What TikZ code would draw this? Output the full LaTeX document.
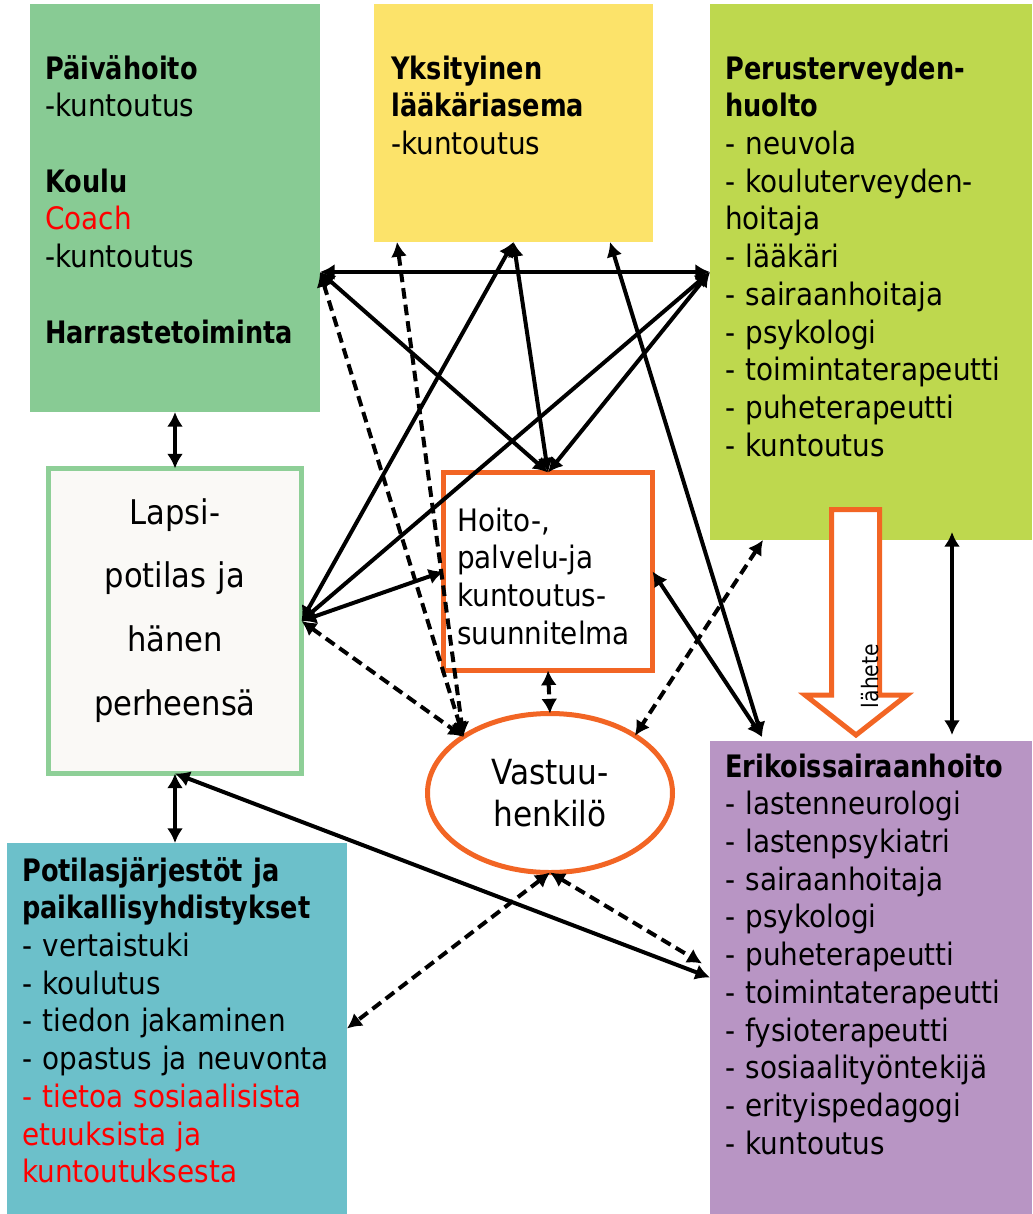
\documentclass[tikz,border=0pt]{standalone}
\usepackage{fontspec}
\setmainfont{DejaVu Sans Condensed}[BoldFeatures={FakeStretch=0.92}]
\usetikzlibrary{calc,arrows.meta,shapes.geometric}

\definecolor{paivacol}{HTML}{88CB94}
\definecolor{ykscol}{HTML}{FCE36A}
\definecolor{peruscol}{HTML}{BED84E}
\definecolor{erikocol}{HTML}{B895C4}
\definecolor{potilcol}{HTML}{6CC0CA}
\definecolor{oranssi}{HTML}{F26524}
\definecolor{lapsireuna}{HTML}{8ECF97}
\definecolor{lapsitausta}{HTML}{FAF9F6}
\definecolor{punainen}{HTML}{FF0000}

\tikzset{
  sz/.style 2 args={minimum width=#1*0.75pt,minimum height=#2*0.75pt},
  laatikko/.style={anchor=north west,inner sep=0pt,outer sep=0pt},
  teksti/.style={anchor=base west,inner sep=0pt,text width=300pt,align=left,
    font=\fontsize{23.2}{28.3}\selectfont},
  nuoli/.style={line width=3pt,{Latex[length=11pt,width=12pt]}-{Latex[length=11pt,width=12pt]}},
  katko/.style={nuoli,dash pattern=on 8pt off 4.5pt},
}

\begin{document}
\begin{tikzpicture}[x=0.75pt,y=-0.75pt]
\useasboundingbox (0,0) rectangle (1032,1214);

% laatikot
\node[laatikko,sz={290}{408},fill=paivacol] (paiva) at (30,4) {};
\node[laatikko,sz={279}{238},fill=ykscol] (yks) at (374,4) {};
\node[laatikko,sz={322}{536},fill=peruscol] (perus) at (710,4) {};
\node[laatikko,sz={322}{473},fill=erikocol] (eriko) at (710,741) {};
\node[laatikko,sz={340}{371},fill=potilcol] (potil) at (7,843) {};
\node[laatikko,sz={253}{305},draw=lapsireuna,line width=3.75pt,fill=lapsitausta] (lapsi) at (48.5,468.5) {};
\node[laatikko,sz={209}{198},draw=oranssi,line width=3.75pt,fill=white] (hoito) at (443.5,472.5) {};
\node[ellipse,sz={245}{159},draw=oranssi,line width=3.75pt,fill=white,inner sep=0pt,outer sep=0pt,
  align=center,font=\fontsize{26}{31.5}\selectfont] (vastuu) at (550,793) {Vastuu-\\henkilö};

% tekstit
\node[teksti] (paivateksti) at (45,79) {\textbf{Päivähoito}\\-kuntoutus\\[28.3pt]\textbf{Koulu}\\{\color{punainen}Coach}\\-kuntoutus\\[28.3pt]\textbf{Harrastetoiminta}};
\node[teksti] (yksteksti) at (391,79) {\textbf{Yksityinen}\\\textbf{lääkäriasema}\\-kuntoutus};
\node[teksti] (perusteksti) at (725,79) {\textbf{Perusterveyden-}\\\textbf{huolto}\\- neuvola\\- kouluterveyden-\\hoitaja\\- lääkäri\\- sairaanhoitaja\\- psykologi\\- toimintaterapeutti\\- puheterapeutti\\- kuntoutus};
\node[teksti] (erikoteksti) at (725,777) {\textbf{Erikoissairaanhoito}\\- lastenneurologi\\- lastenpsykiatri\\- sairaanhoitaja\\- psykologi\\- puheterapeutti\\- toimintaterapeutti\\- fysioterapeutti\\- sosiaalityöntekijä\\- erityispedagogi\\- kuntoutus};
\node[teksti] (potilteksti) at (22,881) {\textbf{Potilasjärjestöt ja}\\\textbf{paikallisyhdistykset}\\- vertaistuki\\- koulutus\\- tiedon jakaminen\\- opastus ja neuvonta\\{\color{punainen}- tietoa sosiaalisista\\etuuksista ja\\kuntoutuksesta}};
\node[anchor=base,inner sep=0pt,text width=250pt,align=center,font=\fontsize{25.5}{47.8}\selectfont] (lapsiteksti) at (175,524) {Lapsi-\\potilas ja\\hänen\\perheensä};
\node[teksti] (hoitoteksti) at (457,531) {Hoito-,\\palvelu-ja\\kuntoutus-\\suunnitelma};

% lähete
\draw[oranssi,line width=3.75pt,fill=white] (831.5,509.5) -- (879.5,509.5) -- (879.5,695) -- (907,695)
  -- (856,735) -- (805,695) -- (831.5,695) -- cycle;
\node[rotate=90,inner sep=0pt,font=\fontsize{17}{17}\selectfont] (lahete) at (870,676) {lähete};

% yhteydet
\coordinate (pe) at (paiva.east |- perus.west);
\coordinate (yv) at ($(yks.south west)+(23,0)$);
\coordinate (yo) at ($(yks.south west)+(236,0)$);
\coordinate (ek) at ($(eriko.north west)+(52,-4)$);
\coordinate (pa) at ($(perus.south west)+(53,0)$);
\coordinate (vv) at (vastuu.147);

\draw[nuoli] (paiva.south) -- (lapsi.north);
\draw[nuoli] (lapsi.south) -- (lapsi.south |- potil.north);
\draw[nuoli] (pe) -- (perus.west);
\draw[nuoli] (pe) -- (hoito.north);
\draw[katko] (pe) -- (vv);
\draw[katko] (yv) -- (vv);
\draw[nuoli] (yks.south) -- (lapsi.east);
\draw[nuoli] (yks.south) -- (hoito.north);
\draw[nuoli] (yo) -- (ek);
\draw[nuoli] (perus.west) -- (hoito.north);
\draw[nuoli] (perus.west) -- (lapsi.east);
\draw[nuoli] (lapsi.east) -- (hoito.west);
\draw[katko] (lapsi.east) -- (vv);
\draw[katko] (hoito.south) -- (vastuu.north);
\draw[nuoli] (hoito.east) -- (ek);
\draw[katko] (pa) -- (vastuu.34);
\draw[katko] (vastuu.south) -- (potil.east);
\draw[katko] (vastuu.south) -- ($(eriko.west)+(-8,-14)$);
\draw[nuoli] (lapsi.south) -- (eriko.west);
\draw[nuoli] ($(perus.south west)+(242,-8)$) -- ($(eriko.north west)+(242,-6)$);

\end{tikzpicture}
\end{document}
